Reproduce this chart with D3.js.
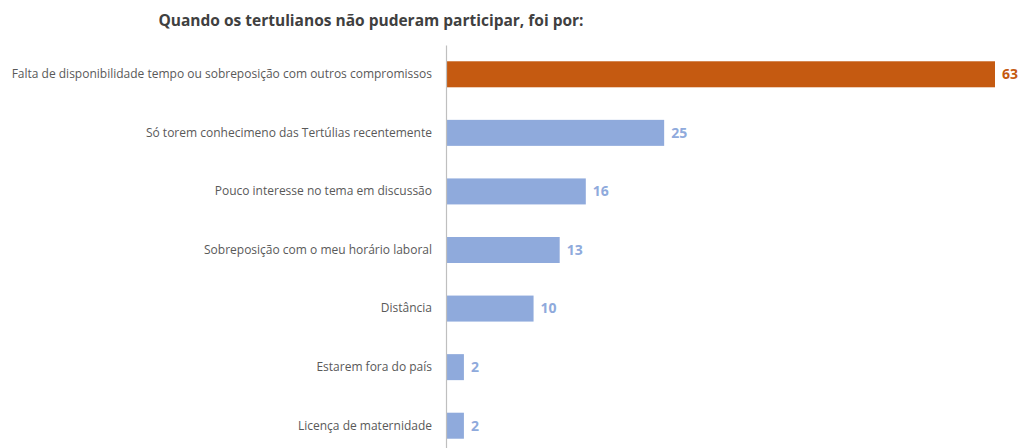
<!DOCTYPE html>
<html lang="pt">
<head>
<meta charset="utf-8">
<script src="https://cdn.jsdelivr.net/npm/d3@7/dist/d3.min.js"></script>
<style>
  html, body { margin: 0; padding: 0; background: #ffffff; }
  svg { display: block; }
</style>
</head>
<body>
<svg id="chart" width="1019" height="448"></svg>
<script>
// Motivos de ausência nas Tertúlias
const categories = [
  "Falta de disponibilidade tempo ou sobreposição com outros compromissos",
  "Só torem conhecimeno das Tertúlias recentemente",
  "Pouco interesse no tema em discussão",
  "Sobreposição com o meu horário laboral",
  "Distância",
  "Estarem fora do país",
  "Licença de maternidade"
];
const values = [63, 25, 16, 13, 10, 2, 2];
const title = "Quando os tertulianos não puderam participar, foi por:";

const W = 1019, H = 448;
const svg = d3.select("#chart");

const x = d3.scaleLinear().domain([0, 63]).range([446.5, 995]);
const y = d3.scaleBand().domain(categories).range([45, 455]).paddingInner(0.556).paddingOuter(0.278);

const highlight = "#C55A11";
const base = "#8FAADC";
const colorOf = (d, i) => i === 0 ? highlight : base;

// título
svg.append("text")
  .attr("x", 371).attr("y", 26)
  .attr("text-anchor", "middle")
  .attr("font-family", "'Open Sans', sans-serif")
  .attr("font-weight", "bold")
  .attr("font-size", 15.5)
  .attr("fill", "#404040")
  .text(title);

// barras
svg.append("g").selectAll("rect")
  .data(values)
  .join("rect")
  .attr("x", x(0))
  .attr("y", (d, i) => y(categories[i]))
  .attr("width", d => x(d) - x(0))
  .attr("height", y.bandwidth())
  .attr("fill", colorOf);

// eixo vertical com rótulos das categorias
const axis = d3.axisLeft(y).tickSize(0).tickPadding(14);
const gAxis = svg.append("g")
  .attr("transform", `translate(${x(0) - 0.5},0)`)
  .call(axis);
gAxis.select(".domain").attr("stroke", "#bfbfbf").attr("stroke-width", 1.2);
gAxis.selectAll("text")
  .attr("font-family", "'Open Sans', sans-serif")
  .attr("font-size", 12)
  .attr("fill", "#595959");

// valores
svg.append("g").selectAll("text")
  .data(values)
  .join("text")
  .attr("x", d => x(d) + 7)
  .attr("y", (d, i) => y(categories[i]) + y.bandwidth() / 2)
  .attr("dy", "0.35em")
  .attr("font-family", "'Open Sans', sans-serif")
  .attr("font-weight", "bold")
  .attr("font-size", 14)
  .attr("fill", colorOf)
  .text(d => d);
</script>
</body>
</html>
